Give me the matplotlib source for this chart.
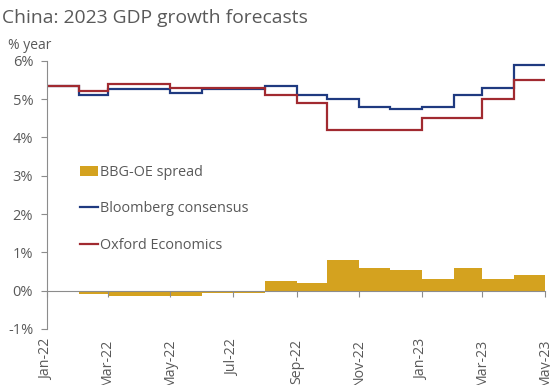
import numpy as np
import pandas as pd
import matplotlib
matplotlib.use('Agg')
from matplotlib import pyplot as plt
import matplotlib.dates as mdates
from matplotlib.patches import Patch
from matplotlib.lines import Line2D

plt.rcParams['font.family'] = ['Open Sans', 'DejaVu Sans']

months = pd.date_range('2022-01-01', '2023-04-01', freq='MS')
bloomberg = [5.35, 5.1, 5.25, 5.25, 5.15, 5.25, 5.25, 5.35, 5.1, 5.0, 4.8, 4.75, 4.8, 5.1, 5.3, 5.9]
oxford = [5.35, 5.2, 5.4, 5.4, 5.3, 5.3, 5.3, 5.1, 4.9, 4.2, 4.2, 4.2, 4.5, 4.5, 5.0, 5.5]
spread = [0.0, -0.1, -0.15, -0.15, -0.15, -0.05, -0.05, 0.25, 0.2, 0.8, 0.6, 0.55, 0.3, 0.6, 0.3, 0.4]
tick_dates = pd.date_range('2022-01-01', '2023-05-01', freq='2MS')

gold = '#D4A21F'
navy = '#1F3A80'
red = '#A12A30'
grey = '#595959'
axis_grey = '#8C8C8C'

edges = pd.date_range('2022-01-01', '2023-05-01', freq='MS')
edge_num = mdates.date2num(edges)

fig = plt.figure(figsize=(5.5, 3.85), dpi=100)
ax = fig.add_axes([0.0855, 0.1455, 0.9055, 0.6968])

ax.bar(edge_num[:-1], spread, width=np.diff(edge_num), align='edge', color=gold, linewidth=0)
ax.stairs(bloomberg, edge_num, baseline=None, color=navy, linewidth=1.6)
ax.stairs(oxford, edge_num, baseline=None, color=red, linewidth=1.6)

ax.set_xlim(edge_num[0], edge_num[-1])
ax.set_ylim(-1, 6)
ax.set_yticks(range(-1, 7))
ax.set_yticklabels([f'{v}%' for v in range(-1, 7)])

for s in ['top', 'right']:
    ax.spines[s].set_visible(False)
ax.spines['left'].set_color(axis_grey)
ax.spines['bottom'].set_position(('data', 0))
ax.spines['bottom'].set_color(axis_grey)
ax.tick_params(axis='y', colors=axis_grey, labelcolor=grey, labelsize=10.5, length=4, direction='out', pad=6)
ax.set_xticks(mdates.date2num(tick_dates))
ax.tick_params(axis='x', colors=axis_grey, length=4, direction='out', labelbottom=False)

sec = ax.secondary_xaxis('bottom')
sec.set_xticks(mdates.date2num(tick_dates))
sec.set_xticklabels([d.strftime('%b-%y') for d in tick_dates], rotation=90)
sec.tick_params(length=0, labelsize=10.2, labelcolor=grey, pad=7)
sec.spines['bottom'].set_visible(False)

handles = [Patch(facecolor=gold, edgecolor='none'),
           Line2D([], [], color=navy, linewidth=1.6),
           Line2D([], [], color=red, linewidth=1.6)]
ax.legend(handles, ['BBG-OE spread', 'Bloomberg consensus', 'Oxford Economics'],
          loc='upper left', bbox_to_anchor=(0.045, 0.65), frameon=False, fontsize=10.4,
          handlelength=1.3, handletextpad=0.15, labelspacing=1.5, labelcolor=grey,
          borderaxespad=0.3)

fig.text(0.004, 0.952, 'China: 2023 GDP growth forecasts', fontsize=13.9, color=grey, va='center')
fig.text(0.014, 0.882, '% year', fontsize=10, color=grey, va='center')

fig.savefig('out.png', dpi=100)
